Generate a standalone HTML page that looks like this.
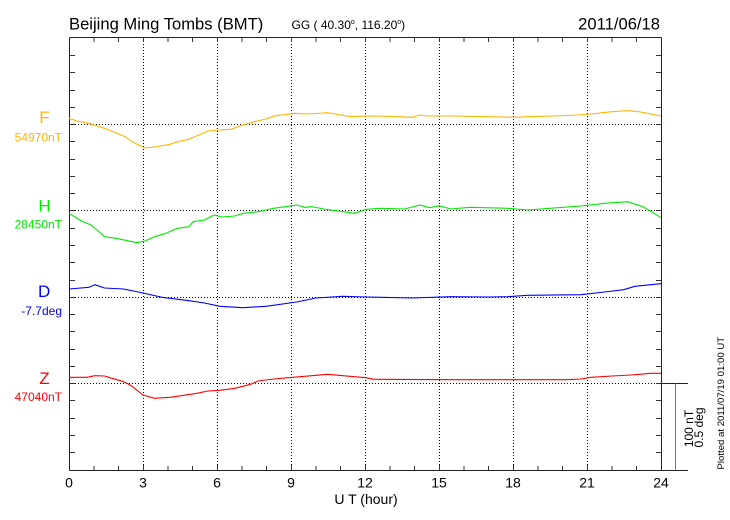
<!DOCTYPE html>
<html>
<head>
<meta charset="utf-8">
<style>
html,body{margin:0;padding:0;background:#fff;}
svg{display:block;}
text{font-family:"Liberation Sans",Arial,sans-serif;}
</style>
</head>
<body>
<svg width="730" height="520" viewBox="0 0 730 520" xmlns="http://www.w3.org/2000/svg">
<rect x="0" y="0" width="730" height="520" fill="#fff"/>

<!-- Title -->
<text x="69" y="29.5" font-size="16.6" fill="#000">Beijing Ming Tombs (BMT)</text>
<text x="291.5" y="29" font-size="12" fill="#000">GG ( 40.30<tspan dy="-5" font-size="7">o</tspan><tspan dy="5">, 116.20</tspan><tspan dy="-5" font-size="7">o</tspan><tspan dy="5">)</tspan></text>
<text x="660" y="29.5" font-size="16.6" fill="#000" text-anchor="end">2011/06/18</text>

<!-- dotted grid: vertical -->
<g stroke="#000" stroke-width="1" stroke-dasharray="1,2" shape-rendering="crispEdges">
  <line x1="143.5" y1="38" x2="143.5" y2="470"/>
  <line x1="217.5" y1="38" x2="217.5" y2="470"/>
  <line x1="291.5" y1="38" x2="291.5" y2="470"/>
  <line x1="365.5" y1="38" x2="365.5" y2="470"/>
  <line x1="439.5" y1="38" x2="439.5" y2="470"/>
  <line x1="513.5" y1="38" x2="513.5" y2="470"/>
  <line x1="587.5" y1="38" x2="587.5" y2="470"/>
  <!-- horizontal baselines -->
  <line x1="69" y1="124.5" x2="661" y2="124.5"/>
  <line x1="69" y1="210.5" x2="661" y2="210.5"/>
  <line x1="69" y1="297.5" x2="661" y2="297.5"/>
  <line x1="69" y1="383.5" x2="661" y2="383.5"/>
</g>

<!-- ticks -->
<g stroke="#333" stroke-width="1" shape-rendering="crispEdges">
  <!-- top ticks (hourly) -->
  <path d="M94,38v4M118.5,38v4M143.5,38v4M168,38v4M192.5,38v4M217.5,38v4M242,38v4M266.5,38v4M291.5,38v4M316,38v4M340.5,38v4M365.5,38v4M390,38v4M414.5,38v4M439.5,38v4M464,38v4M488.5,38v4M513.5,38v4M538,38v4M562.5,38v4M587.5,38v4M612,38v4M636.5,38v4"/>
  <!-- bottom ticks -->
  <path d="M94,470v-4M118.5,470v-4M143.5,470v-5M168,470v-4M192.5,470v-4M217.5,470v-5M242,470v-4M266.5,470v-4M291.5,470v-5M316,470v-4M340.5,470v-4M365.5,470v-5M390,470v-4M414.5,470v-4M439.5,470v-5M464,470v-4M488.5,470v-4M513.5,470v-5M538,470v-4M562.5,470v-4M587.5,470v-5M612,470v-4M636.5,470v-4"/>
  <!-- left ticks -->
  <path d="M69,55.5h6M69,72.5h6M69,90.5h6M69,107.5h6M69,124.5h6M69,141.5h6M69,159.5h6M69,176.5h6M69,193.5h6M69,210.5h6M69,228.5h6M69,245.5h6M69,262.5h6M69,280.5h6M69,297.5h6M69,314.5h6M69,331.5h6M69,349.5h6M69,366.5h6M69,383.5h6M69,400.5h6M69,418.5h6M69,435.5h6M69,452.5h6"/>
  <!-- right ticks -->
  <path d="M661,55.5h-5M661,72.5h-5M661,90.5h-5M661,107.5h-5M661,124.5h-5M661,141.5h-5M661,159.5h-5M661,176.5h-5M661,193.5h-5M661,210.5h-5M661,228.5h-5M661,245.5h-5M661,262.5h-5M661,280.5h-5M661,297.5h-5M661,314.5h-5M661,331.5h-5M661,349.5h-5M661,366.5h-5M661,383.5h-5M661,400.5h-5M661,418.5h-5M661,435.5h-5M661,452.5h-5"/>
</g>

<!-- frame -->
<g stroke="#222" stroke-width="1" fill="none" shape-rendering="crispEdges">
  <line x1="69.5" y1="37.5" x2="661.5" y2="37.5"/>
  <line x1="69.5" y1="37.5" x2="69.5" y2="470.5"/>
  <line x1="661.5" y1="37.5" x2="661.5" y2="470.5"/>
  <line x1="69.5" y1="470.5" x2="688" y2="470.5"/>
  <line x1="661.5" y1="383.5" x2="688" y2="383.5"/>
</g>
<line x1="675.5" y1="383.5" x2="675.5" y2="470.5" stroke="#777" stroke-width="1.2" shape-rendering="crispEdges"/>

<!-- traces -->
<g fill="none" stroke-width="1.1" stroke-linejoin="round">
<polyline stroke="#ffb400" points="69,118.3 77,121 89,123.3 104.5,128.3 123.7,136 135,143.3 144.8,148 154.5,147 170,144.3 177.5,141.7 189,139.3 208,131 219.8,130 231,129.3 243,125 254.5,121.7 266,119 275.6,115.7 285,114.7 295,113.3 304.5,114 316,113.5 327.5,112.7 335,114 350.6,116.7 358,116.3 373.7,116 396.8,116.7 412,117.3 420,115 427,116 450.6,116 489,116.7 516,117.3 527.5,116.7 554.5,116 577.5,115 591,114 612,111.7 627.5,110.7 639,111.7 650.6,114 661,116"/>
<polyline stroke="#00e800" points="69,213.3 81.4,221 91,225 97,230 104.5,236.7 116,238.3 127.5,240.7 137,242.7 145,241 154.5,236.7 166,233.3 177.5,228.3 189,226.7 193,221.7 204.5,220 214,215 221.8,217 235,216 243,213.3 258,211.7 273.7,208.3 285,206.7 296.8,205 304.5,207.3 312,206.7 323.7,209 343,211.7 354.5,213.3 366,209.3 381.4,208.3 404.5,209 420,205 429.5,207.7 439,205.7 450.6,209 470,207.3 508,208.3 527.5,210 558,207.7 581,206 604.5,203.3 627.5,201.7 643,206.7 661,217.7"/>
<polyline stroke="#0000ff" points="69,289 89,287.3 94.8,284.7 104.5,288 123.7,289 143,293 162,297.3 189,300.7 204.5,303 219.8,306.3 243,307.7 266,306.3 296.8,302 316,298 343,296.3 366,297 412,298 450.6,296.7 489,297 508,296.7 527.5,295.3 581,294.7 604.5,292 623.7,289.7 635,286.3 650.6,284.7 661,283.7"/>
<polyline stroke="#ff0000" points="69,377.3 87,377.3 94.8,375.7 104.5,376 112,378.3 123.7,381.7 131.4,385.7 143,395 154.5,398.3 170,397.3 181.4,395.7 196.8,393.3 208,391 219.8,390.3 235,388.3 250.6,384.3 258,381 273.7,379 292.9,377.3 312,375.7 327.5,374.3 343,375.7 366,377.7 373.7,379.3 450.6,379.7 566,379.7 581,379 591,377.3 612,376 631,375 650.6,373.3 661,373.3"/>
</g>

<!-- channel labels -->
<text x="44.5" y="123" font-size="17" fill="#ffb400" text-anchor="middle">F</text>
<text x="62" y="141.5" font-size="12" fill="#ffb400" text-anchor="end">54970nT</text>
<text x="44.5" y="211.5" font-size="17" fill="#00e800" text-anchor="middle">H</text>
<text x="62" y="228.3" font-size="12" fill="#00e800" text-anchor="end">28450nT</text>
<text x="44.2" y="297" font-size="17" fill="#0000ff" text-anchor="middle">D</text>
<text x="62" y="314.8" font-size="12" fill="#0000ff" text-anchor="end">-7.7deg</text>
<text x="44.5" y="384" font-size="17" fill="#ff0000" text-anchor="middle">Z</text>
<text x="62" y="401" font-size="12" fill="#ff0000" text-anchor="end">47040nT</text>

<!-- x tick labels -->
<g font-size="14" fill="#000" text-anchor="middle">
<text x="69" y="487.5">0</text>
<text x="143" y="487.5">3</text>
<text x="217" y="487.5">6</text>
<text x="291" y="487.5">9</text>
<text x="365" y="487.5">12</text>
<text x="439" y="487.5">15</text>
<text x="513" y="487.5">18</text>
<text x="587" y="487.5">21</text>
<text x="661" y="487.5">24</text>
<text x="366" y="504">U T (hour)</text>
</g>

<!-- scale text -->
<text transform="translate(693,428.5) rotate(-90)" font-size="12" fill="#000" text-anchor="middle">100 nT</text>
<text transform="translate(703,427.5) rotate(-90)" font-size="12" fill="#000" text-anchor="middle">0.5 deg</text>
<text transform="translate(724,469.5) rotate(-90)" font-size="9.6" fill="#000">Plotted at 2011/07/19 01:00 UT</text>
</svg>
</body>
</html>
